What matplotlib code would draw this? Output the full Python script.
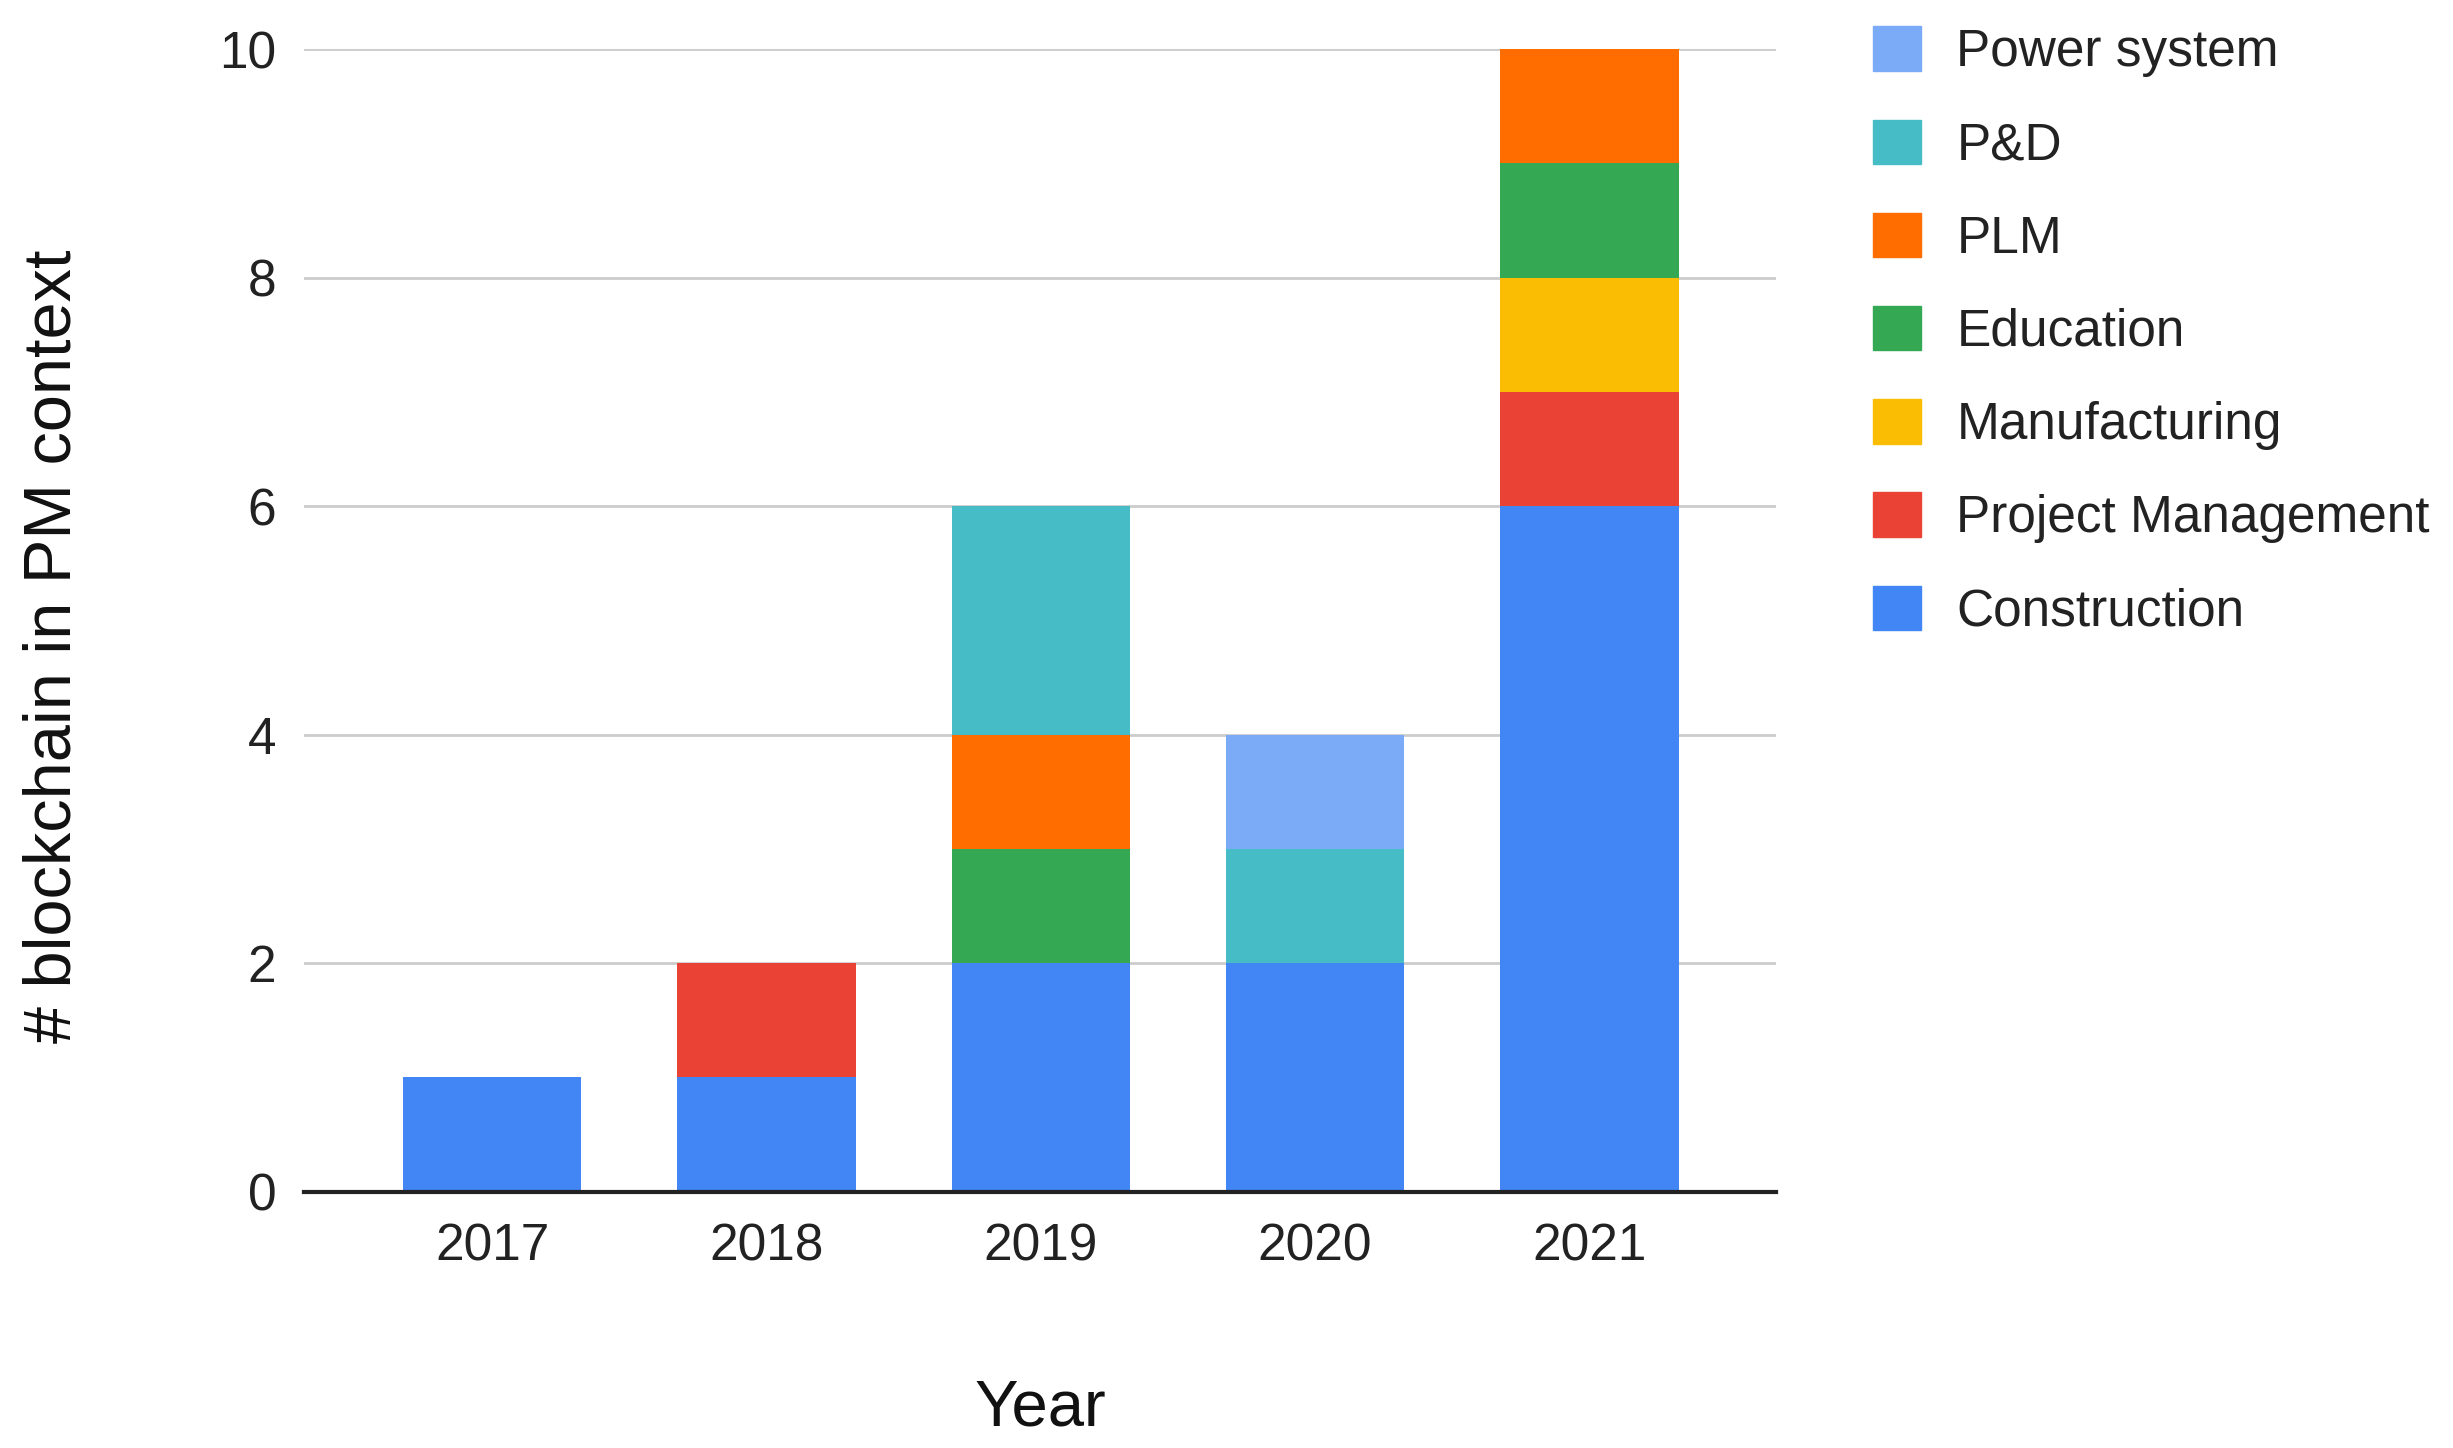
import numpy as np
import matplotlib.pyplot as plt
import matplotlib.patches as mpatches

plt.rcParams['font.family'] = ['Liberation Sans', 'DejaVu Sans']

years = ['2017', '2018', '2019', '2020', '2021']
# stacked from bottom to top
categories = ['Construction', 'Project Management', 'Manufacturing', 'Education',
              'PLM', 'P&D', 'Power system']
construction = [1, 1, 2, 2, 6]
project_mgmt = [0, 1, 0, 0, 1]
manufacturing = [0, 0, 0, 0, 1]
education = [0, 0, 1, 0, 1]
plm = [0, 0, 1, 0, 1]
p_and_d = [0, 0, 2, 1, 0]
power_system = [0, 0, 0, 1, 0]
series = [construction, project_mgmt, manufacturing, education, plm, p_and_d, power_system]
cols = ['#4285F4', '#EA4335', '#FBBC04', '#34A853', '#FF6D01', '#46BDC6', '#7BAAF7']

fig = plt.figure(figsize=(24.53, 14.48), dpi=100)
ax = fig.add_axes([0.124, 0.177, 0.6, 0.789])

x = np.arange(len(years))
bottom = np.zeros(len(years))
handles = []
for vals, c, lab in zip(series, cols, categories):
    vals = np.array(vals, dtype=float)
    ax.bar(x, vals, 0.65, bottom=bottom, color=c, zorder=3)
    bottom += vals
    handles.append(mpatches.Patch(color=c, label=lab))

ax.set_xlim(-0.685, 4.68)
ax.set_ylim(0, 10)
ax.set_yticks([0, 2, 4, 6, 8, 10])
ax.set_xticks(x)
ax.set_xticklabels(years)
ax.grid(axis='y', color='#cccccc', linewidth=2, zorder=0)
ax.set_axisbelow(True)
for s in ['top', 'right', 'left']:
    ax.spines[s].set_visible(False)
ax.spines['bottom'].set_color('#222222')
ax.spines['bottom'].set_linewidth(3)
ax.spines['bottom'].set_zorder(4)
ax.tick_params(axis='both', length=0, labelsize=37, colors='#222222')
ax.tick_params(axis='y', pad=20)
ax.tick_params(axis='x', pad=22)

fig.text(0.022, 0.554, '# blockchain in PM context', rotation=90, fontsize=48,
         ha='center', va='center', color='#111111')
fig.text(0.424, 0.027, 'Year', fontsize=47, ha='center', va='center', color='#111111')

leg = fig.legend(handles=handles[::-1], loc='upper left', bbox_to_anchor=(0.755, 0.996),
                 frameon=False, fontsize=37, handlelength=0.95, handleheight=0.95,
                 handletextpad=0.68, labelspacing=0.825, borderaxespad=0)
for t in leg.get_texts():
    t.set_color('#222222')

fig.savefig('out.png', dpi=100)
